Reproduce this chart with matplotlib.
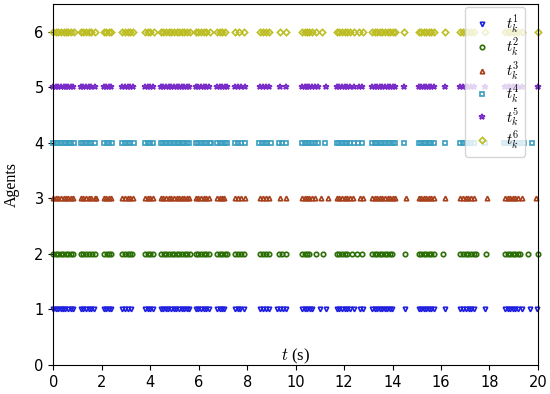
import numpy as np
import matplotlib.pyplot as plt

plt.rcParams['mathtext.fontset'] = 'cm'

# event-triggering instants of each agent (s)
t1 = [0.00, 0.10, 0.21, 0.30, 0.41, 0.50, 0.62, 0.71, 0.80,
      1.13, 1.24, 1.35, 1.46, 1.57, 1.69,
      2.10, 2.19, 2.28, 2.37,
      2.85, 2.96, 3.08, 3.20,
      3.80, 3.90, 4.00, 4.10,
      4.43, 4.53, 4.64, 4.75, 4.86, 4.97, 5.08, 5.18, 5.29, 5.40, 5.50, 5.60,
      5.87, 5.98, 6.10, 6.21, 6.32, 6.43,
      6.77, 6.86, 6.96, 7.05,
      7.50, 7.61, 7.72, 7.87,
      8.55, 8.66, 8.78, 8.90,
      9.24, 9.35, 9.47, 9.59,
      10.27, 10.38, 10.48, 10.59, 10.69, 11.00, 11.27,
      11.70, 11.80, 11.91, 12.02, 12.13, 12.24, 12.40, 12.65, 12.78,
      13.16, 13.26, 13.37, 13.47, 13.58, 13.68, 13.79, 13.89, 13.99, 14.50,
      15.08, 15.18, 15.29, 15.39, 15.50, 15.60, 15.70, 16.15,
      16.80, 16.91, 17.02, 17.14, 17.25, 17.36, 17.80,
      18.66, 18.76, 18.86, 18.97, 19.07, 19.18, 19.35, 19.67, 19.96]

t2 = [0.00, 0.10, 0.20, 0.31, 0.41, 0.52, 0.62, 0.72, 0.80,
      1.13, 1.24, 1.35, 1.47, 1.58, 1.70,
      2.10, 2.20, 2.29, 2.38,
      2.85, 2.96, 3.07, 3.18, 3.25,
      3.80, 3.90, 4.00, 4.10,
      4.45, 4.55, 4.66, 4.77, 4.88, 4.99, 5.10, 5.20, 5.31, 5.42, 5.52, 5.62,
      5.87, 5.98, 6.09, 6.20, 6.31, 6.42,
      6.77, 6.87, 6.97, 7.08, 7.18,
      7.50, 7.62, 7.74, 7.88,
      8.55, 8.66, 8.78, 8.92,
      9.30, 9.42, 9.60,
      10.27, 10.37, 10.47, 10.57, 10.86, 11.13,
      11.70, 11.80, 11.91, 12.02, 12.12, 12.33, 12.52, 12.72,
      13.16, 13.26, 13.37, 13.47, 13.58, 13.68, 13.79, 13.89, 13.99, 14.50,
      15.08, 15.18, 15.29, 15.39, 15.50, 15.60, 15.70, 16.08,
      16.80, 16.91, 17.02, 17.13, 17.24, 17.35, 17.45, 17.87,
      18.66, 18.76, 18.86, 18.97, 19.07, 19.18, 19.28, 19.60, 20.00]

t3 = [0.00, 0.10, 0.21, 0.31, 0.42, 0.52, 0.62, 0.72, 0.80,
      1.13, 1.24, 1.35, 1.46, 1.57, 1.70, 1.76,
      2.10, 2.19, 2.28, 2.37,
      2.85, 2.96, 3.07, 3.18, 3.28,
      3.80, 3.90, 4.00, 4.10,
      4.43, 4.54, 4.65, 4.76, 4.87, 4.98, 5.09, 5.20, 5.30, 5.41, 5.51, 5.60,
      5.87, 5.98, 6.09, 6.20, 6.32, 6.43,
      6.77, 6.87, 6.96, 7.05,
      7.50, 7.62, 7.76, 7.92,
      8.55, 8.66, 8.78, 8.90,
      9.34, 9.59,
      10.27, 10.37, 10.47, 10.57, 10.68, 10.80, 11.06, 11.33,
      11.70, 11.80, 11.91, 12.02, 12.13, 12.24, 12.38, 12.66, 12.80,
      13.16, 13.26, 13.37, 13.47, 13.58, 13.69, 13.80, 13.91, 14.02, 14.12, 14.55,
      15.08, 15.18, 15.29, 15.39, 15.50, 15.60, 15.70, 16.15,
      16.80, 16.91, 17.02, 17.13, 17.24, 17.36, 17.88,
      18.66, 18.76, 18.86, 18.97, 19.07, 19.18, 19.35, 19.93]

t4 = [0.00, 0.10, 0.21, 0.31, 0.42, 0.52, 0.63, 0.73, 0.85,
      1.13, 1.24, 1.35, 1.46, 1.57, 1.72,
      2.10, 2.20, 2.30, 2.42,
      2.85, 2.96, 3.07, 3.18, 3.32,
      3.80, 3.90, 4.00, 4.10,
      4.43, 4.54, 4.65, 4.76, 4.87, 4.98, 5.09, 5.20, 5.30, 5.41, 5.51, 5.60,
      5.87, 5.98, 6.09, 6.20, 6.32, 6.45, 6.52,
      6.77, 6.87, 6.97, 7.07, 7.18,
      7.50, 7.62, 7.76, 7.92,
      8.50, 8.61, 8.72, 8.83, 8.98,
      9.30, 9.42, 9.59,
      10.27, 10.37, 10.47, 10.57, 10.68, 10.80, 10.92, 11.20,
      11.70, 11.80, 11.91, 12.02, 12.13, 12.24, 12.40, 12.57, 12.72,
      13.16, 13.26, 13.37, 13.47, 13.58, 13.69, 13.80, 13.91, 14.02, 14.12, 14.47,
      15.08, 15.18, 15.29, 15.39, 15.50, 15.60, 15.73, 16.15,
      16.80, 16.91, 17.02, 17.13, 17.24, 17.38, 17.82,
      18.60, 18.70, 18.80, 18.90, 19.00, 19.10, 19.20, 19.32, 19.44, 19.77]

t5 = [0.00, 0.10, 0.21, 0.31, 0.42, 0.52, 0.62, 0.72, 0.80,
      1.13, 1.24, 1.35, 1.46, 1.57, 1.70,
      2.10, 2.19, 2.28, 2.37,
      2.85, 2.96, 3.07, 3.18, 3.28,
      3.80, 3.90, 4.00, 4.10,
      4.43, 4.54, 4.65, 4.76, 4.87, 4.98, 5.09, 5.20, 5.30, 5.41, 5.51, 5.60,
      5.87, 5.98, 6.09, 6.20, 6.32, 6.43,
      6.77, 6.87, 6.97, 7.08, 7.18,
      7.50, 7.62, 7.76, 7.92,
      8.55, 8.66, 8.78, 8.90,
      9.34, 9.59,
      10.27, 10.37, 10.47, 10.57, 10.68, 10.80, 10.92, 11.27,
      11.70, 11.80, 11.91, 12.02, 12.13, 12.24, 12.40, 12.62, 12.76,
      13.16, 13.26, 13.37, 13.47, 13.58, 13.69, 13.80, 13.91, 14.02, 14.12, 14.47,
      15.08, 15.18, 15.29, 15.39, 15.50, 15.60, 15.73, 16.15,
      16.80, 16.91, 17.02, 17.13, 17.24, 17.36, 17.80,
      18.66, 18.76, 18.86, 18.97, 19.07, 19.18, 19.35, 20.00]

t6 = [0.00, 0.10, 0.21, 0.31, 0.42, 0.52, 0.62, 0.72, 0.84,
      1.13, 1.24, 1.35, 1.46, 1.57, 1.70,
      2.10, 2.19, 2.28, 2.40,
      2.85, 2.96, 3.07, 3.18, 3.30,
      3.80, 3.90, 4.00, 4.14,
      4.43, 4.54, 4.65, 4.76, 4.87, 4.98, 5.09, 5.20, 5.30, 5.41, 5.51, 5.62,
      5.87, 5.98, 6.09, 6.20, 6.32, 6.45,
      6.77, 6.87, 6.97, 7.10,
      7.50, 7.66, 7.86,
      8.55, 8.66, 8.78, 8.92,
      9.34, 9.60,
      10.27, 10.37, 10.47, 10.57, 10.68, 10.85, 11.08,
      11.70, 11.80, 11.91, 12.02, 12.13, 12.24, 12.40, 12.62, 12.80,
      13.16, 13.26, 13.37, 13.47, 13.58, 13.69, 13.80, 13.91, 14.02, 14.12, 14.47,
      15.08, 15.18, 15.29, 15.39, 15.50, 15.60, 15.73, 16.15,
      16.80, 16.91, 17.02, 17.13, 17.24, 17.36, 17.80,
      18.66, 18.76, 18.86, 18.97, 19.07, 19.18, 19.35, 20.00]

events = [t1, t2, t3, t4, t5, t6]
markers = ['v', 'o', '^', 's', '*', 'D']
colors = ['#1f1fe0', '#2a6e05', '#a8401c', '#3a9ec0', '#7a2cc8', '#bcbd22']
labels = [r'$t_k^%d$' % (i + 1) for i in range(6)]

fig = plt.figure(figsize=(5.5, 3.94), dpi=100)
ax = fig.add_axes([0.097, 0.074, 0.881, 0.916])

for i, t in enumerate(events):
    ax.plot(t, np.full(len(t), i + 1), markers[i], ls='none', mfc='none',
            mec=colors[i], ms=3.2 if markers[i] != '*' else 4.0, mew=1.2,
            label=labels[i], clip_on=False)

ax.set_xlim(0, 20)
ax.set_ylim(0, 6.5)
ax.set_xticks(np.arange(0, 21, 2))
ax.set_yticks(np.arange(0, 7, 1))
ax.tick_params(labelsize=10.5)
ax.set_ylabel('Agents', fontsize=11.5, family='Liberation Serif')
ax.yaxis.set_label_coords(-0.07, 0.5)
ax.set_xlabel(r'$t$ (s)', fontsize=12, family='Liberation Serif')
ax.xaxis.set_label_coords(0.5, 0.05)

ax.legend(loc='upper right', fontsize=10.5, labelspacing=0.05, handlelength=1.5,
          handletextpad=0.9, borderpad=0.4, borderaxespad=0.2,
          bbox_to_anchor=(0.98, 1.0))

fig.savefig('out.png', dpi=100)
